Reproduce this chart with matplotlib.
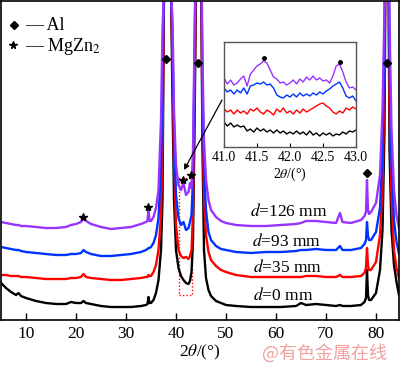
import numpy as np
import matplotlib
matplotlib.use("Agg")
import matplotlib.pyplot as plt
from matplotlib.patches import Rectangle

plt.rcParams['font.family'] = ['Liberation Serif', 'DejaVu Serif']
plt.rcParams['mathtext.fontset'] = 'stix'

# ---------------- data ----------------
two_theta = [5, 6, 7, 8, 8.5, 9, 10, 12, 14, 16, 18, 19, 20, 21, 21.5, 22, 23, 25, 27, 29,
             31, 33, 34, 34.3, 34.5, 34.7, 35, 35.5, 36, 36.5, 37, 37.3, 37.6, 38.3, 39.0,
             39.3, 39.6, 40.0, 40.5, 41.0, 41.5, 42.0, 42.5, 42.8, 43.1, 43.4, 43.7, 44.6,
             45.3, 45.6, 46.0, 46.5, 47, 48, 49, 50, 52, 55, 58, 61, 64, 65, 66, 68, 70, 72,
             72.8, 73.3, 75, 77, 77.7, 78.0, 78.2, 78.4, 78.6, 79, 80, 80.8, 81.3, 81.7,
             82.2, 82.7, 83.1, 83.6, 84.1, 84.6]

d0 = [37, 32, 28, 25, 27, 24, 22, 19, 17, 16, 16, 18, 17, 17, 19, 17, 16, 14, 13, 13,
      13, 14, 15, 16, 23, 17, 17, 20, 27, 40, 70, 120, 330, 600, 330,
      220, 120, 70, 52, 44, 40, 37, 36, 39, 48, 80, 190, 600,
      170, 70, 42, 30, 24, 19, 17, 15, 14, 13, 13, 13, 14, 17, 15, 16, 15, 14,
      15, 14, 14, 15, 18, 22, 50, 25, 20, 20, 27, 50, 90, 190,
      600, 170, 90, 55, 38, 25]

d35 = [45, 45, 44, 44, 44, 43, 43, 42, 41, 41, 41, 42, 42, 43, 46, 43, 42, 41, 40, 40,
       41, 42, 43, 43, 45, 44, 44, 48, 55, 70, 105, 170, 330, 600, 330,
       260, 160, 95, 70, 64, 62, 63, 61, 64, 70, 105, 220, 600,
       200, 120, 85, 68, 60, 54, 50, 48, 45, 43, 43, 43, 43, 43, 44, 44, 43, 43,
       45, 43, 43, 44, 47, 52, 72, 55, 50, 50, 58, 85, 130, 240,
       600, 220, 120, 70, 52, 42]

d93 = [73, 72, 71, 70, 70, 69, 68, 67, 66, 65, 65, 66, 66, 67, 70, 68, 66, 64, 64, 65,
       66, 68, 70, 71, 72, 72, 73, 77, 85, 102, 150, 240, 330, 600, 330,
       280, 190, 125, 102, 95, 98, 90, 92, 98, 105, 140, 260, 600,
       230, 150, 110, 88, 80, 74, 71, 70, 68, 67, 68, 68, 69, 70, 70, 71, 70, 70,
       74, 70, 70, 72, 76, 80, 98, 84, 80, 80, 88, 112, 170, 280,
       600, 260, 155, 100, 78, 66]

d126 = [98, 97, 96, 95, 95, 94, 94, 93, 92, 92, 93, 95, 96, 98, 102, 99, 96, 93, 91, 92,
        93, 96, 98, 99, 112, 99, 99, 103, 112, 130, 200, 290, 330, 600, 330,
        300, 210, 155, 135, 130, 137, 125, 128, 137, 132, 170, 280, 600,
        260, 180, 140, 120, 110, 103, 99, 97, 95, 94, 94, 95, 96, 97, 99, 99, 98, 97,
        107, 98, 97, 100, 104, 108, 140, 110, 106, 108, 117, 145, 210, 310,
        600, 300, 190, 130, 105, 92]

# inset (zoom of 41-43 deg)
inset_theta = np.round(np.arange(41.0, 43.001, 0.05), 2)
in_d126 = [72, 66, 70, 65, 67, 71, 74, 64, 76, 80, 84, 86, 89, 87, 80, 73, 71, 67, 68, 65,
           67, 70, 66, 71, 68, 73, 70, 74, 70, 72, 69, 70, 67, 74, 84, 86, 78, 68, 62, 63, 60]
in_d93 = [62, 58, 60, 56, 60, 57, 62, 56, 64, 65, 67, 66, 68, 65, 66, 62, 55, 53, 52, 55,
          53, 56, 53, 57, 54, 56, 54, 57, 55, 58, 56, 59, 61, 64, 66, 68, 62, 54, 52, 54, 49]
in_d35 = [41, 38, 40, 36, 40, 37, 39, 36, 41, 39, 42, 38, 36, 40, 38, 35, 41, 38, 42, 37,
          39, 36, 40, 37, 41, 38, 40, 42, 44, 46, 47, 44, 42, 38, 36, 39, 37, 42, 40, 43, 41]
in_d0 = [28, 24, 27, 23, 25, 23, 24, 19, 21, 18, 22, 19, 21, 18, 20, 17, 20, 17, 19, 16,
         18, 16, 19, 16, 18, 15, 19, 15, 17, 14, 17, 15, 17, 14, 16, 15, 18, 16, 19, 18, 20]

series_labels = ["$d$=0 mm", "$d$=35 mm", "$d$=93 mm", "$d$=126 mm"]
colors = ["#000000", "#ff0000", "#0033ff", "#9933ff"]

al_pos = [38.0, 44.4, 78.2, 82.2]
al_y = [261, 257, 147, 257]
mg_pos = [21.4, 34.4, 41.4, 43.0]
mg_y = [103, 113, 140, 145]

x_ticks = [10, 20, 30, 40, 50, 60, 70, 80]
inset_ticks = [41.0, 41.5, 42.0, 42.5, 43.0]

# ---------------- figure ----------------
W, H = 400, 365
fig = plt.figure(figsize=(W / 100, H / 100), dpi=100)
ax = fig.add_axes([1 / W, 1 - 320 / H, 398 / W, 319 / H])

main_series = [d0, d35, d93, d126]
for ys, c in zip(main_series, colors):
    ax.plot(two_theta, ys, color=c, lw=1.7, solid_joinstyle='round')

ax.set_xlim(5.0, 84.6)
ax.set_ylim(0, 319)
ax.set_yticks([])
ax.set_xticks(x_ticks)
ax.tick_params(axis='x', direction='in', length=5, width=1, labelsize=12.5, pad=4)
for s in ax.spines.values():
    s.set_linewidth(1.2)
ax.set_xlabel(r"2$\theta$/(°)", fontsize=12.5, labelpad=1)

# markers
ax.plot(al_pos, al_y, 'D', color='black', ms=4.5, clip_on=False)
ax.plot(mg_pos, mg_y, '*', color='black', ms=6, clip_on=False)

# labels
lab_x = [55.4, 55.4, 55.2, 54.8]
lab_y = [24, 52, 78, 109]
for t, lx, ly in zip(series_labels, lab_x, lab_y):
    ax.text(lx, ly, t, fontsize=12.5, ha='left', va='center')

# legend (manual)
ax.plot([0.033], [0.925], 'D', color='black', ms=4, transform=ax.transAxes)
ax.plot([0.030], [0.862], '*', color='black', ms=5.5, transform=ax.transAxes)
ax.text(0.06, 0.922, "— Al", transform=ax.transAxes, fontsize=13, va='center')
ax.text(0.06, 0.857, "— MgZn$_2$", transform=ax.transAxes, fontsize=13, va='center')

# dotted rectangle
ax.add_patch(Rectangle((40.6, 25), 2.6, 117, fill=False, ec='#ff0000', ls=(0, (1, 1.5)), lw=1))

# arrow from inset
ax.annotate('', xy=(41.6, 150), xycoords='data',
            xytext=(222 / W, 1 - 100 / H), textcoords='figure fraction',
            arrowprops=dict(arrowstyle='-|>', color='black', lw=0.9, mutation_scale=8,
                            shrinkA=0, shrinkB=0))

# inset
axi = fig.add_axes([224 / W, 1 - 147 / H, 132 / W, 105 / H])
for ys, c in zip([in_d0, in_d35, in_d93, in_d126], colors):
    axi.plot(inset_theta, ys, color=c, lw=1.0)
axi.set_xlim(41.0, 43.0)
axi.set_ylim(3, 108)
axi.set_yticks([])
axi.set_xticks(inset_ticks)
axi.set_xticklabels([f"{t:.1f}" for t in inset_ticks])
axi.tick_params(axis='x', direction='in', length=3, width=0.8, labelsize=10, pad=3)
for s in axi.spines.values():
    s.set_color('#555555')
    s.set_linewidth(1.0)
axi.set_xlabel(r"2$\theta$/(°)", fontsize=10, labelpad=1)
axi.plot([41.6, 42.75], [92, 88], 'o', color='black', ms=2.5)

# watermark
fig.text(262 / W, 1 - 353 / H, "@有色金属在线", fontsize=13, color='#f2a0a0',
         family=['Noto Sans CJK SC', 'DejaVu Sans'], ha='left', va='center')

fig.savefig("out.png", dpi=100)
